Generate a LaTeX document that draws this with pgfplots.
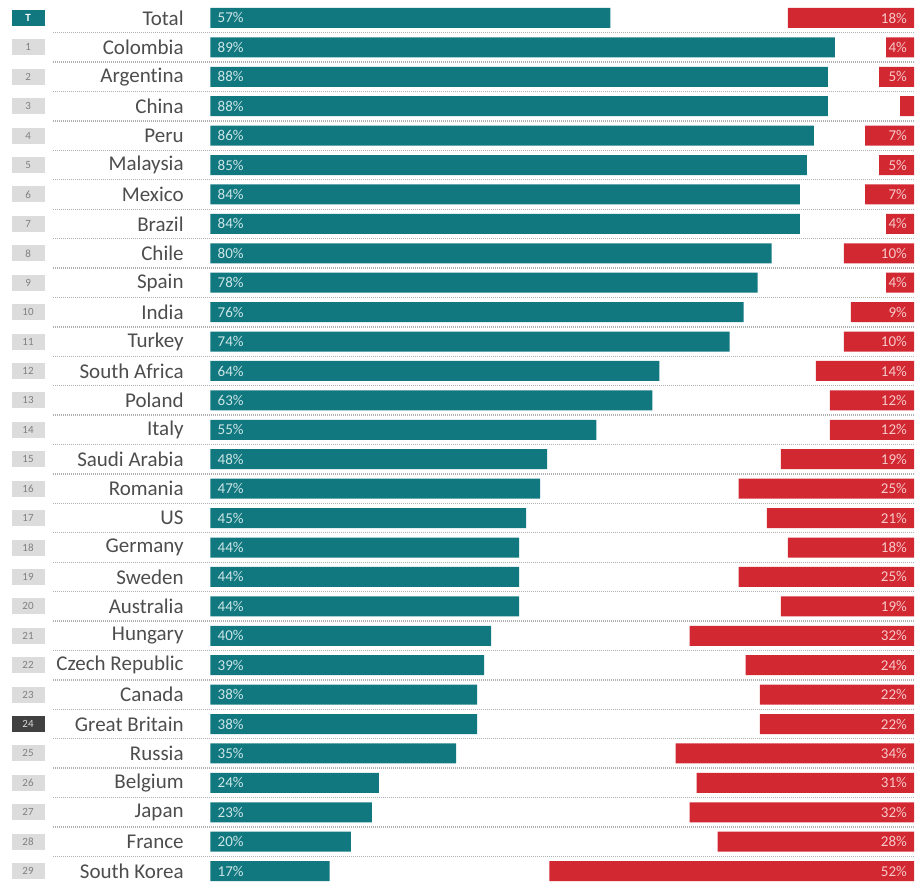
\documentclass[border=0pt]{standalone}
\usepackage{pgfplots}
\pgfplotsset{compat=1.18}
\usepackage{pgfplotstable}
\usepackage{fontspec}
\setmainfont[Ligatures=NoCommon]{Carlito}
\definecolor{tealbar}{HTML}{117880}
\definecolor{redbar}{HTML}{D22832}
\definecolor{boxgray}{HTML}{DCDCDC}
\definecolor{namegray}{HTML}{4D4D4D}
\definecolor{dotgray}{HTML}{B0B0B0}
\definecolor{teallab}{HTML}{CDE6E6}
\definecolor{redlab}{HTML}{F7C9C9}
\definecolor{darkbox}{HTML}{404040}
\pgfplotstableread[col sep=comma]{
idx,rank,name,yes,no
0,T,Total,57,18
1,1,Colombia,89,4
2,2,Argentina,88,5
3,3,China,88,2
4,4,Peru,86,7
5,5,Malaysia,85,5
6,6,Mexico,84,7
7,7,Brazil,84,4
8,8,Chile,80,10
9,9,Spain,78,4
10,10,India,76,9
11,11,Turkey,74,10
12,12,South Africa,64,14
13,13,Poland,63,12
14,14,Italy,55,12
15,15,Saudi Arabia,48,19
16,16,Romania,47,25
17,17,US,45,21
18,18,Germany,44,18
19,19,Sweden,44,25
20,20,Australia,44,19
21,21,Hungary,40,32
22,22,Czech Republic,39,24
23,23,Canada,38,22
24,24,Great Britain,38,22
25,25,Russia,35,34
26,26,Belgium,24,31
27,27,Japan,23,32
28,28,France,20,28
29,29,South Korea,17,52
}\data
\begin{document}
\begin{tikzpicture}
\pgfplotsset{base/.style={scale only axis, width=916pt, height=882pt,
  xmin=-30, xmax=100.57, ymin=-0.61, ymax=29.37, y dir=reverse,
  axis lines=none, ticks=none, clip=false}}
% red bars (stacked: invisible offset + red part)
\begin{axis}[base, xbar stacked, bar width=20pt]
\addplot[draw=none, fill=none] table[x expr=100.3-\thisrow{no}, y=idx]{\data};
\addplot[draw=none, fill=redbar] table[x=no, y=idx]{\data};
\end{axis}
\begin{axis}[base]
\path (rel axis cs:0,0) rectangle (rel axis cs:1,1);
\pgfplotsinvokeforeach{0.5,1.5,...,28.5}{
  \draw[dotgray, line width=1.3pt, dash pattern=on 0.9pt off 1.1pt]
    (axis cs:-22.4,#1) -- (axis cs:100.3,#1);
}
% teal bars
\addplot[xbar, bar width=20pt, draw=none, fill=tealbar] table[x=yes, y=idx]{\data};
% teal labels
\addplot[draw=none, mark=none, nodes near coords={\pgfplotspointmeta\%},
  point meta=explicit symbolic,
  nodes near coords style={anchor=west, text=teallab, font=\fontsize{15}{15}\selectfont, inner sep=0pt}]
  table[x expr=1.0, y=idx, meta=yes]{\data};
% red labels
\addplot[draw=none, mark=none, nodes near coords={\pgfplotspointmeta\%},
  point meta=explicit symbolic, skip coords between index={3}{4},
  nodes near coords style={anchor=east, text=redlab, font=\fontsize{15}{15}\selectfont, inner sep=0pt}]
  table[x expr=99.3, y=idx, meta=no]{\data};
% country names
\addplot[draw=none, mark=none, nodes near coords, point meta=explicit symbolic,
  nodes near coords style={anchor=east, text=namegray, font=\fontsize{21}{21}\selectfont, inner sep=0pt}]
  table[x expr=-3.8, y=idx, meta=name]{\data};
% rank boxes
\addplot[draw=none, mark=none, nodes near coords, point meta=explicit symbolic,
  nodes near coords style={anchor=center, fill=boxgray, text=gray, minimum width=33pt,
  minimum height=16pt, inner sep=0pt, font=\fontsize{11}{11}\selectfont}]
  table[x expr=-26, y=idx, meta=rank]{\data};
\addplot[draw=none, mark=none, nodes near coords, point meta=explicit symbolic,
  nodes near coords style={anchor=center, fill=tealbar, text=white, minimum width=33pt,
  minimum height=16pt, inner sep=0pt, font=\bfseries\fontsize{11}{11}\selectfont}]
  coordinates {(-26,0) [T]};
\addplot[draw=none, mark=none, nodes near coords, point meta=explicit symbolic,
  nodes near coords style={anchor=center, fill=darkbox, text=white!85!black, minimum width=33pt,
  minimum height=16pt, inner sep=0pt, font=\fontsize{11}{11}\selectfont}]
  coordinates {(-26,24) [24]};
\end{axis}
\end{tikzpicture}
\end{document}
